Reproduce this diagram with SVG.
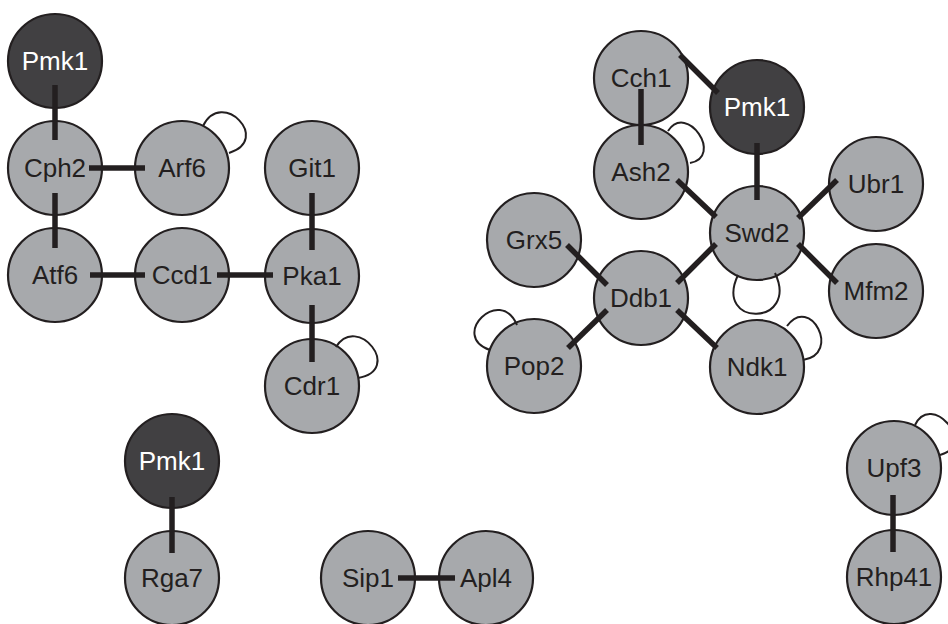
<svg xmlns="http://www.w3.org/2000/svg" width="948" height="624" viewBox="0 0 948 624">
  <style>
    .node circle { fill: #a7a9ac; stroke: #231f20; stroke-width: 2.2; }
    .node text { font-family: "Liberation Sans", Arial, sans-serif; font-size: 26px; fill: #231f20; text-anchor: middle; }
    .hub circle { fill: #414042; }
    .hub text { fill: #ffffff; }
    .edge { stroke: #231f20; stroke-width: 5.5; stroke-linecap: butt; fill: none; }
    .loop { stroke: #231f20; stroke-width: 2; fill: none; }
  </style>
  <rect width="948" height="624" fill="#ffffff"/>

  <!-- cluster 1 -->
  <g id="pmk1-a" class="node hub"><circle cx="55" cy="61" r="47"/><text x="55" y="70">Pmk1</text></g>
  <g id="cph2" class="node"><circle cx="55" cy="168" r="47"/><text x="55" y="177">Cph2</text></g>
  <g id="arf6" class="node"><circle cx="182" cy="168" r="47"/><text x="182" y="177">Arf6</text></g>
  <g id="atf6" class="node"><circle cx="55" cy="275" r="47"/><text x="55" y="284">Atf6</text></g>
  <g id="ccd1" class="node"><circle cx="182" cy="275" r="47"/><text x="182" y="284">Ccd1</text></g>
  <g id="git1" class="node"><circle cx="312" cy="168" r="47"/><text x="312" y="177">Git1</text></g>
  <g id="pka1" class="node"><circle cx="312" cy="276" r="47"/><text x="312" y="285">Pka1</text></g>
  <g id="cdr1" class="node"><circle cx="312" cy="386" r="47"/><text x="312" y="395">Cdr1</text></g>

  <!-- cluster 2 -->
  <g id="cch1" class="node"><circle cx="641" cy="78" r="47"/><text x="641" y="87">Cch1</text></g>
  <g id="pmk1-b" class="node hub"><circle cx="757" cy="107" r="47"/><text x="757" y="116">Pmk1</text></g>
  <g id="ash2" class="node"><circle cx="641" cy="172" r="47"/><text x="641" y="181">Ash2</text></g>
  <g id="swd2" class="node"><circle cx="757" cy="233" r="47"/><text x="757" y="242">Swd2</text></g>
  <g id="ubr1" class="node"><circle cx="876" cy="184" r="47"/><text x="876" y="193">Ubr1</text></g>
  <g id="mfm2" class="node"><circle cx="876" cy="291" r="47"/><text x="876" y="300">Mfm2</text></g>
  <g id="grx5" class="node"><circle cx="534" cy="240" r="47"/><text x="534" y="249">Grx5</text></g>
  <g id="ddb1" class="node"><circle cx="641" cy="298" r="47"/><text x="641" y="307">Ddb1</text></g>
  <g id="pop2" class="node"><circle cx="534" cy="366" r="47"/><text x="534" y="375">Pop2</text></g>
  <g id="ndk1" class="node"><circle cx="757" cy="367" r="47"/><text x="757" y="376">Ndk1</text></g>

  <!-- small clusters -->
  <g id="pmk1-c" class="node hub"><circle cx="172" cy="461" r="47"/><text x="172" y="470">Pmk1</text></g>
  <g id="rga7" class="node"><circle cx="172" cy="578" r="47"/><text x="172" y="587">Rga7</text></g>
  <g id="sip1" class="node"><circle cx="368" cy="578" r="47"/><text x="368" y="587">Sip1</text></g>
  <g id="apl4" class="node"><circle cx="486" cy="578" r="47"/><text x="486" y="587">Apl4</text></g>
  <g id="upf3" class="node"><circle cx="894" cy="468" r="47"/><text x="894" y="477">Upf3</text></g>
  <g id="rhp41" class="node"><circle cx="894" cy="577" r="47"/><text x="894" y="586">Rhp41</text></g>

  <g id="connectors">
    <line class="edge" x1="55" y1="85" x2="55" y2="140"/>
    <line class="edge" x1="89" y1="168" x2="145" y2="168"/>
    <line class="edge" x1="55" y1="193" x2="55" y2="248"/>
    <line class="edge" x1="90" y1="275" x2="145" y2="275"/>
    <line class="edge" x1="217" y1="275" x2="273" y2="275"/>
    <line class="edge" x1="312" y1="193" x2="312" y2="250"/>
    <line class="edge" x1="312" y1="305" x2="312" y2="362"/>

    <line class="edge" x1="680" y1="55" x2="718" y2="93"/>
    <line class="edge" x1="641" y1="89" x2="641" y2="145"/>
    <line class="edge" x1="757" y1="143" x2="757" y2="200"/>
    <line class="edge" x1="677" y1="180" x2="716" y2="217"/>
    <line class="edge" x1="798" y1="218" x2="837" y2="180"/>
    <line class="edge" x1="798" y1="244" x2="837" y2="283"/>
    <line class="edge" x1="716" y1="244" x2="677" y2="283"/>
    <line class="edge" x1="567" y1="245" x2="607" y2="285"/>
    <line class="edge" x1="607" y1="310" x2="568" y2="348"/>
    <line class="edge" x1="677" y1="310" x2="717" y2="348"/>

    <line class="edge" x1="172" y1="497" x2="172" y2="553"/>
    <line class="edge" x1="398" y1="578" x2="455" y2="578"/>
    <line class="edge" x1="893" y1="495" x2="893" y2="552"/>

    <!-- self interactions -->
    <path class="loop" d="M203,126 C222,88 272,140 229,153"/>
    <path class="loop" d="M336,347 C357,313 404,370 358,378"/>
    <path class="loop" d="M668,131 C687,102 724,157 690,163"/>
    <path class="loop" d="M738,275 C713,328 800,326 775,273"/>
    <path class="loop" d="M517,325 C500,285 449,336 490,350"/>
    <path class="loop" d="M787,326 C810,294 842,354 803,360"/>
    <path class="loop" d="M915,425 C931,391 978,445 940,455"/>
  </g>
</svg>
